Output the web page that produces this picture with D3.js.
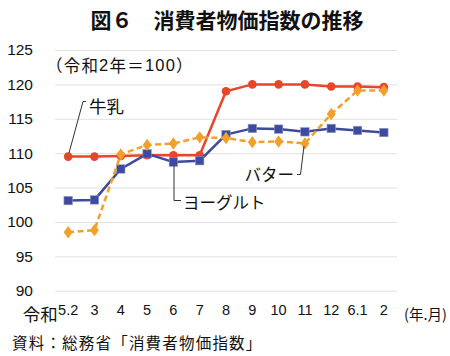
<!DOCTYPE html>
<html><head><meta charset="utf-8">
<script src="https://cdn.jsdelivr.net/npm/d3@7"></script>
<style>
html,body{margin:0;padding:0;background:#fff;}
svg{display:block;}
</style></head>
<body>
<svg id="c" width="450" height="356"></svg>
<script>
const categories = ["5.2","3","4","5","6","7","8","9","10","11","12","6.1","2"];
const milk    = [109.5,109.5,109.6,109.7,109.7,109.7,119.0,120.0,120.0,120.0,119.7,119.7,119.6];
const yogurt  = [103.1,103.2,107.7,109.9,108.7,108.9,112.7,113.6,113.5,113.1,113.6,113.3,113.0];
const butter  = [98.5,98.8,109.8,111.2,111.4,112.3,112.2,111.6,111.7,111.4,115.7,119.1,119.1];
const yTicks  = [90,95,100,105,110,115,120,125];

const svg = d3.select("#c");
const NUM = "'Liberation Sans', Arial, sans-serif";
const JP = "'Noto Sans CJK JP', sans-serif";
const L = 55, R = 397, T = 50, B = 290.7;

const x = d3.scaleBand().domain(categories).range([L, R]);
const y = d3.scaleLinear().domain([90,125]).range([B, T]);
const cx = d => x(d) + x.bandwidth()/2;

// title
svg.append("text").attr("x", 227).attr("y", 19).attr("text-anchor","middle")
  .attr("dominant-baseline","central")
  .style("font-family", JP).style("font-size","21px").style("font-weight","bold")
  .attr("fill","#111").text("図６　消費者物価指数の推移");

// grid + y axis
const yAxis = d3.axisLeft(y).tickValues(yTicks).tickSize(-(R-L)).tickPadding(22).tickFormat(d3.format("d"));
const gy = svg.append("g").attr("transform", `translate(${L},0)`).call(yAxis);
gy.select(".domain").remove();
gy.selectAll(".tick line").attr("stroke","#e0e0e0").attr("stroke-width",1);
gy.selectAll(".tick text").style("font-family", NUM).style("font-size","15.5px").attr("fill","#111");

// x axis labels
const xAxis = d3.axisBottom(x).tickSize(0).tickPadding(0);
const gx = svg.append("g").attr("transform", `translate(0,${B+14})`).call(xAxis);
gx.select(".domain").remove();
gx.selectAll(".tick text").style("font-family", NUM).style("font-size","14.5px").attr("fill","#111")
  .attr("dy","0.71em");
svg.append("text").attr("x", cx(categories[0]) - 10.5).attr("y", 313).attr("text-anchor","end")
  .attr("dominant-baseline","central")
  .style("font-family", JP).style("font-size","17.5px").attr("fill","#111").text("令和");
svg.append("text").attr("x", 404).attr("y", 313)
  .attr("dominant-baseline","central")
  .style("font-family", JP).style("font-size","14.5px").attr("fill","#111").text("(年.月)");

// subtitle
const sub = svg.append("text").attr("x", 46).attr("y", 65).attr("dominant-baseline","central")
  .style("font-family", JP).style("font-size","16.5px").style("letter-spacing","1.2px").attr("fill","#111");
sub.append("tspan").text("（令和");
sub.append("tspan").style("font-family", NUM).text("2");
sub.append("tspan").text("年＝");
sub.append("tspan").style("font-family", NUM).text("100");
sub.append("tspan").text("）");

// source
svg.append("text").attr("x", 12).attr("y", 342).attr("dominant-baseline","central")
  .style("font-family", JP).style("font-size","15.5px").style("letter-spacing","1.2px").attr("fill","#111")
  .text("資料：総務省「消費者物価指数」");

const line = d3.line().x((d,i)=>cx(categories[i])).y(d=>y(d));

// milk
const RED = "#E8452A", BLUE = "#3D4A9E", ORANGE = "#F1A12B";
svg.append("path").datum(milk).attr("d", line).attr("fill","none").attr("stroke",RED).attr("stroke-width",2.5);
svg.selectAll(".m").data(milk).enter().append("circle")
  .attr("cx",(d,i)=>cx(categories[i])).attr("cy",d=>y(d)).attr("r",4.3).attr("fill",RED);

// yogurt
svg.append("path").datum(yogurt).attr("d", line).attr("fill","none").attr("stroke",BLUE).attr("stroke-width",2.5);
svg.selectAll(".yg").data(yogurt).enter().append("rect")
  .attr("x",(d,i)=>cx(categories[i])-4.2).attr("y",d=>y(d)-4.2).attr("width",8.4).attr("height",8.4)
  .attr("fill",BLUE).attr("stroke","#8a93c8").attr("stroke-width",0.6);

// butter
svg.append("path").datum(butter).attr("d", line).attr("fill","none").attr("stroke",ORANGE)
  .attr("stroke-width",2.5).attr("stroke-dasharray","6,3.5");
const dsym = d3.symbol().type(d3.symbolDiamond).size(44);
svg.selectAll(".b").data(butter).enter().append("path")
  .attr("d", dsym).attr("transform",(d,i)=>`translate(${cx(categories[i])},${y(d)}) scale(1.25,1)`)
  .attr("fill",ORANGE);

// annotations
const lead = d3.line();
const ann = (pts, txt, tx, ty, fs, anchor) => {
  svg.append("path").attr("d", lead(pts)).attr("fill","none").attr("stroke","#333").attr("stroke-width",1);
  svg.append("text").attr("x",tx).attr("y",ty).attr("text-anchor",anchor).attr("dominant-baseline","central")
    .style("font-family", JP).style("font-size",fs).attr("fill","#111").text(txt);
};
ann([[86,101.5],[83,101.5],[69,153]], "牛乳", 89, 105, "17.5px", "start");
ann([[174,166],[174,200.5],[181,200.5]], "ヨーグルト", 183, 202, "16.5px", "start");
ann([[297,174.5],[300.5,174.5],[304,146]], "バター", 294, 174, "16.5px", "end");
</script>
</body></html>
